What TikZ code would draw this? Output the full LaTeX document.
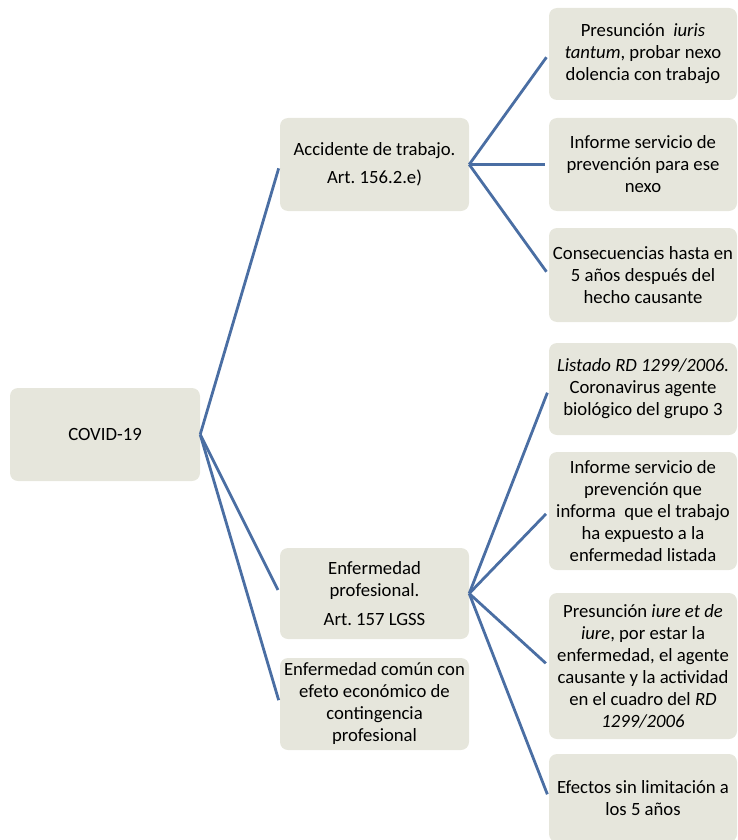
\documentclass[tikz,border=0pt]{standalone}
\usepackage{fontspec}
\setmainfont{Carlito}
\definecolor{boxfill}{RGB}{230,230,220}
\definecolor{linkblue}{RGB}{74,110,163}
\begin{document}
\begin{tikzpicture}[x=1pt,y=-1pt,
  box/.style={fill=boxfill,draw=none,rounded corners=8pt,align=center,
    inner sep=2pt,font=\fontsize{18.7}{22}\selectfont\frenchspacing,text=black},
  lbox/.style={box,minimum width=190pt,minimum height=93pt},
  mbox/.style={box,minimum width=189pt},
  rbox/.style={box,minimum width=188pt},
  link/.style={draw=linkblue,line width=2.8pt,shorten >=4pt}]
\useasboundingbox (0,0) rectangle (737,840);
\clip (0,0) rectangle (737,840);

\node[lbox] (covid) at (105,434.5) {COVID-19};

\node[mbox,minimum height=93pt] (acc) at (374.5,164.5) {Accidente de trabajo.\\[6pt]Art.\ 156.2.e)};
\node[mbox,minimum height=91pt] (ep) at (374.5,593.5) {Enfermedad\\profesional.\\[7pt]Art.\ 157 LGSS};
\node[mbox,minimum height=92pt] (ec) at (374.5,704) {Enfermedad común con\\efeto económico de\\contingencia\\profesional};

\node[rbox,minimum height=92pt] (r1) at (643,54) {Presunción\ \ \textit{iuris}\\\textit{tantum}, probar nexo\\dolencia con trabajo};
\node[rbox,minimum height=93pt] (r2) at (643,164.5) {Informe servicio de\\prevención para ese\\nexo};
\node[rbox,minimum height=94pt] (r3) at (643,275) {Consecuencias hasta en\\5 años después del\\hecho causante};
\node[rbox,minimum height=92pt] (r4) at (643,389) {\textit{Listado RD 1299/2006.}\\Coronavirus agente\\biológico del grupo 3};
\node[rbox,minimum height=118pt] (r5) at (643,511) {Informe servicio de\\prevención que\\informa\ \ que el trabajo\\ha expuesto a la\\enfermedad listada};
\node[rbox,minimum height=146pt] (r6) at (643,666) {Presunción \textit{iure et de}\\\textit{iure}, por estar la\\enfermedad, el agente\\causante y la actividad\\en el cuadro del \textit{RD}\\\textit{1299/2006}};
\node[rbox,minimum height=88pt] (r7) at (643,798) {Efectos sin limitación a\\los 5 años};

\draw[link] (covid.east) -- (acc.west);
\draw[link] (covid.east) -- (ep.west);
\draw[link] (covid.east) -- (ec.west);

\draw[link] (acc.east) -- (r1.west);
\draw[link] (acc.east) -- (r2.west);
\draw[link] (acc.east) -- (r3.west);

\draw[link] (ep.east) -- (r4.west);
\draw[link] (ep.east) -- (r5.west);
\draw[link] (ep.east) -- (r6.west);
\draw[link] (ep.east) -- (r7.west);
\end{tikzpicture}
\end{document}
